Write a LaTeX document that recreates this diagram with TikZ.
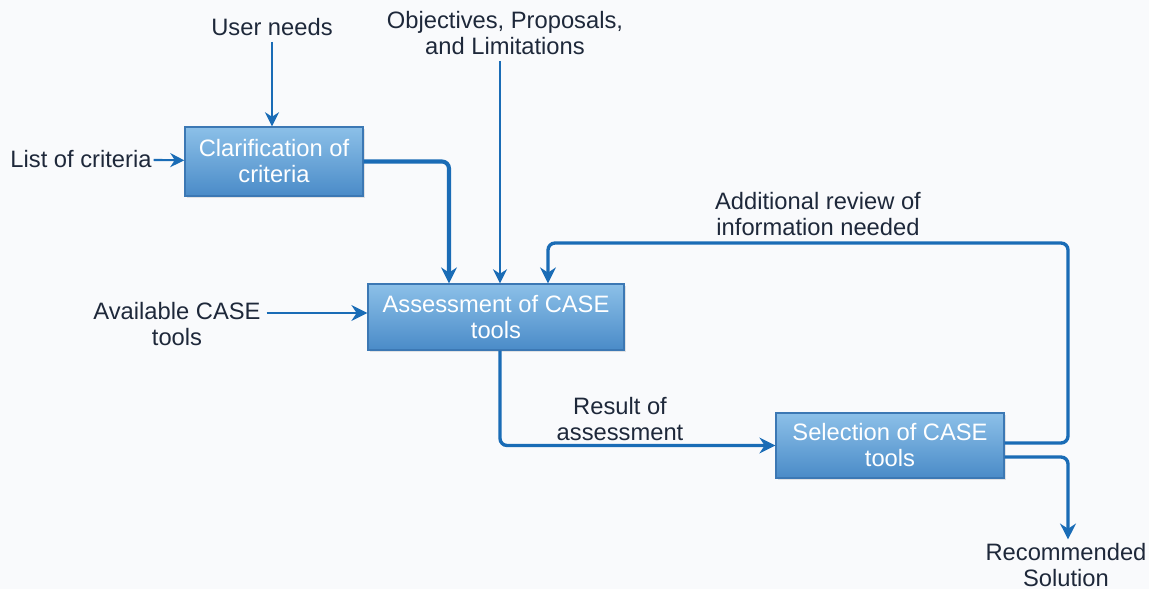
\documentclass[tikz,border=0pt]{standalone}
\usepackage{fontspec}
\setmainfont{Liberation Sans}
\usepackage{xcolor}
\usepackage{tikz}
\usetikzlibrary{arrows.meta, positioning, calc, shadows}
\definecolor{myblue}{RGB}{26,108,182}
\definecolor{myedge}{RGB}{60,120,180}
\definecolor{mytop}{RGB}{140,192,232}
\definecolor{mybot}{RGB}{74,139,200}
\definecolor{mytext}{RGB}{30,40,58}
\definecolor{mybg}{RGB}{249,250,252}
\tikzset{
  block/.style={rectangle, draw=myedge, top color=mytop, bottom color=mybot,
    align=center, font=\fontsize{13.5}{14.8}\selectfont, text=white,
    line width=0.8pt, drop shadow={opacity=0.2, shadow xshift=1pt, shadow yshift=-1.2pt}},
  label/.style={align=center, font=\fontsize{13.5}{14.8}\selectfont, text=mytext},
  arrow/.style={-{Stealth[length=9pt, width=9pt]}, line width=1.9pt, color=myblue, rounded corners=4pt},
  inarrow/.style={-{Stealth[length=8pt, width=8pt]}, line width=1.2pt, color=myblue},
  line/.style={line width=1.9pt, color=myblue, rounded corners=4pt}
}

\begin{document}
\begin{tikzpicture}
  \fill[mybg] (0,0) rectangle (22.98,-11.78);
  \useasboundingbox (0,0) rectangle (22.98,-11.78);

  % Blocks
  \node[block, minimum width=3.56cm, minimum height=1.38cm] (cl) at (5.48,-3.23) {Clarification of\\criteria};
  \node[block, minimum width=5.12cm, minimum height=1.32cm] (as) at (9.92,-6.34) {Assessment of CASE\\tools};
  \node[block, minimum width=4.56cm, minimum height=1.30cm] (se) at (17.8,-8.91) {Selection of CASE\\tools};

  % Inputs
  \node[label] (un) at (5.44,-0.54) {User needs};
  \node[label] (obj) at (10.1,-0.66) {Objectives, Proposals,\\and Limitations};
  \node[label, inner sep=1pt] (lc) at (1.62,-3.18) {List of criteria};
  \node[label] (av) at (3.54,-6.48) {Available CASE\\tools};

  \draw[inarrow] (un) -- (un |- cl.north);
  \draw[inarrow] ([xshift=-0.1cm]obj.south) -- ([xshift=-0.1cm]obj.south |- as.north);
  \draw[inarrow] (lc) -- (cl);
  \draw[arrow, line width=1.5pt] ([yshift=0.08cm]as.west -| av.east) -- ([yshift=0.08cm]as.west);

  % Main flow
  \draw[arrow, line width=2.3pt] (cl.east) -| ([xshift=-0.94cm]as.north);
  \node[label] (ra) at (12.4,-8.38) {Result of\\assessment};
  \draw[arrow] ([xshift=0.08cm]as.south) |- (se.west);

  % Feedback
  \coordinate (fb) at (21.36,-4.86);
  \node[label] (ad) at (16.36,-4.28) {Additional review of\\information needed};
  \draw[arrow] ([yshift=0.05cm]se.east) -| (fb) -| ([xshift=1.04cm]as.north);

  % Output
  \node[label, inner sep=2pt] (rs) at (21.32,-11.3) {Recommended\\Solution};
  \draw[arrow] ([yshift=-0.23cm]se.east) -| ([xshift=0.04cm]rs.north);
\end{tikzpicture}
\end{document}
